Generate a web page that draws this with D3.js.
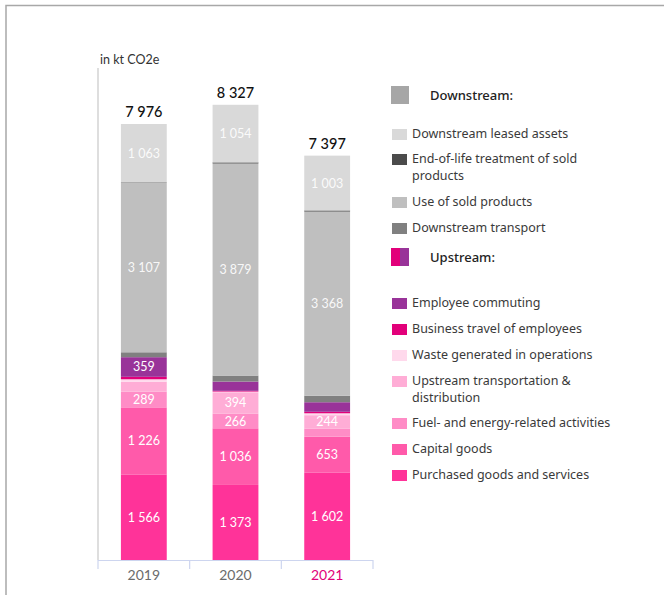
<!DOCTYPE html>
<html><head><meta charset="utf-8">
<script src="https://cdn.jsdelivr.net/npm/d3@7"></script>
<style>
html,body{margin:0;padding:0;background:#fff;}
svg{display:block;}
</style></head>
<body>
<svg id="chart" width="664" height="595"></svg>
<script>
// ---- data ----
const years = ["2019", "2020", "2021"];
const totals = [7976, 8327, 7397];
// series listed bottom -> top of each bar
const seriesNames = [
  "Purchased goods and services",
  "Capital goods",
  "Fuel- and energy-related activities",
  "Upstream transportation & distribution",
  "Waste generated in operations",
  "Business travel of employees",
  "Employee commuting",
  "Downstream transport",
  "Use of sold products",
  "End-of-life treatment of sold products",
  "Downstream leased assets"
];
const purchasedGoods   = [1566, 1373, 1602];
const capitalGoods     = [1226, 1036, 653];
const fuelEnergy       = [289, 266, 150];
const upstreamTransport= [180, 394, 244];
const wasteGenerated   = [45, 12, 35];
const businessTravel   = [45, 13, 27];
const employeeCommuting= [359, 170, 175];
const downstreamTransport=[90, 110, 120];
const useOfSold        = [3107, 3879, 3368];
const endOfLife        = [6, 20, 20];
const downstreamLeased = [1063, 1054, 1003];
const seriesValues = [purchasedGoods, capitalGoods, fuelEnergy, upstreamTransport,
  wasteGenerated, businessTravel, employeeCommuting, downstreamTransport,
  useOfSold, endOfLife, downstreamLeased];
const seriesColors = ["#ff3399","#ff5aaa","#ff8cc6","#ffadd6","#ffd9ec","#e2007a",
  "#993399","#808080","#bfbfbf","#4b4b4b","#d9d9d9"];

const legendDown = ["Downstream leased assets","End-of-life treatment of sold|products","Use of sold products","Downstream transport"];
const legendDownColors = ["#d9d9d9","#4b4b4b","#bfbfbf","#808080"];
const legendUp = ["Employee commuting","Business travel of employees","Waste generated in operations","Upstream transportation &|distribution","Fuel- and energy-related activities","Capital goods","Purchased goods and services"];
const legendUpColors = ["#993399","#e2007a","#ffd9ec","#ffadd6","#ff8cc6","#ff5aaa","#ff3399"];

// ---- build ----
const svg = d3.select("#chart");
const fmt = v => d3.format(",")(v).replace(/,/g, "\u00a0");

// frame
svg.append("path").attr("d","M6,595 V5.5 H664").attr("fill","none").attr("stroke","#a8a8a8").attr("stroke-width",1.5);

const rows = years.map((y,i) => {
  const o = {year:y};
  seriesNames.forEach((s,k) => o[s] = seriesValues[k][i]);
  return o;
});
const stack = d3.stack().keys(seriesNames)(rows);

const x = d3.scaleBand().domain(years).range([98, 373]).paddingInner(0.5).paddingOuter(0.25);
const y = d3.scaleLinear().domain([0, 9000]).range([560, 68]);

// y axis line
svg.append("line").attr("x1",98).attr("x2",98).attr("y1",y(9000)).attr("y2",y(0))
  .attr("stroke","#dedede").attr("stroke-width",2);

// bars
const g = svg.append("g");
stack.forEach((layer,k) => {
  g.selectAll(null).data(layer).enter().append("rect")
    .attr("x", d => x(d.data.year))
    .attr("width", x.bandwidth())
    .attr("y", d => y(d[1]))
    .attr("height", d => y(d[0]) - y(d[1]))
    .attr("fill", seriesColors[k]);
});
// value labels
stack.forEach((layer,k) => {
  g.selectAll(null).data(layer.filter(d => (d[1]-d[0]) >= 200)).enter().append("text")
    .attr("x", d => x(d.data.year) + x.bandwidth()/2)
    .attr("y", d => (y(d[0]) + y(d[1]))/2)
    .attr("dy","0.36em")
    .attr("text-anchor","middle")
    .attr("font-family","Lato, sans-serif")
    .attr("font-size",12.5)
    .attr("fill","#ffffff")
    .attr("fill-opacity", k >= 8 ? 0.9 : 1)
    .text(d => fmt(d[1]-d[0]));
});
// totals
svg.selectAll(null).data(years).enter().append("text")
  .attr("x", d => x(d) + x.bandwidth()/2)
  .attr("y", (d,i) => y(totals[i]) - 7)
  .attr("text-anchor","middle")
  .attr("font-family","Lato, sans-serif")
  .attr("font-size",14.5)
  .attr("font-weight",500)
  .attr("fill","#111")
  .text((d,i) => fmt(totals[i]));

// x axis
const ax = svg.append("g");
ax.append("line").attr("x1",98).attr("x2",373).attr("y1",560.5).attr("y2",560.5).attr("stroke","#cdd5ef").attr("stroke-width",1.2);
[98, 98+275/3, 98+550/3, 373].forEach(t => {
  ax.append("line").attr("x1",t).attr("x2",t).attr("y1",560).attr("y2",569).attr("stroke","#cdd5ef").attr("stroke-width",1.2);
});
ax.selectAll(null).data(years).enter().append("text")
  .attr("x", d => x(d) + x.bandwidth()/2)
  .attr("y", 580)
  .attr("text-anchor","middle")
  .attr("font-family","Lato, sans-serif")
  .attr("font-size",14)
  .attr("fill", d => d === "2021" ? "#e2007a" : "#6b6b6b")
  .text(d => d);

// unit
svg.append("text").attr("x",100).attr("y",64).attr("font-family","Lato, sans-serif")
  .attr("font-size",12.5).attr("fill","#333").text("in kt CO2e");

// legend
const lg = svg.append("g").attr("font-family","'Noto Sans', sans-serif").attr("fill","#3a3a3a");
lg.append("rect").attr("x",391).attr("y",86).attr("width",18).attr("height",18).attr("fill","#a6a6a6");
lg.append("text").attr("x",430).attr("y",100).attr("font-size",13).attr("font-weight",500).attr("fill","#222").text("Downstream:");
lg.append("rect").attr("x",391).attr("y",248).attr("width",9).attr("height",18).attr("fill","#e2007a");
lg.append("rect").attr("x",400).attr("y",248).attr("width",9).attr("height",18).attr("fill","#993399");
lg.append("text").attr("x",430).attr("y",262).attr("font-size",13).attr("font-weight",500).attr("fill","#222").text("Upstream:");

function items(names, colors, ys){
  names.forEach((n,i) => {
    lg.append("rect").attr("x",392).attr("y",ys[i]-4).attr("width",15).attr("height",11).attr("fill",colors[i]);
    const t = lg.append("text").attr("x",412).attr("y",ys[i]+5).attr("font-size",12.5);
    n.split("|").forEach((line,j) => t.append("tspan").attr("x",412).attr("dy", j ? 17 : 0).text(line));
  });
}
items(legendDown, legendDownColors, [133, 158, 201, 227]);
items(legendUp, legendUpColors, [302, 328, 354, 380, 422, 448, 474]);
</script>
</body></html>
